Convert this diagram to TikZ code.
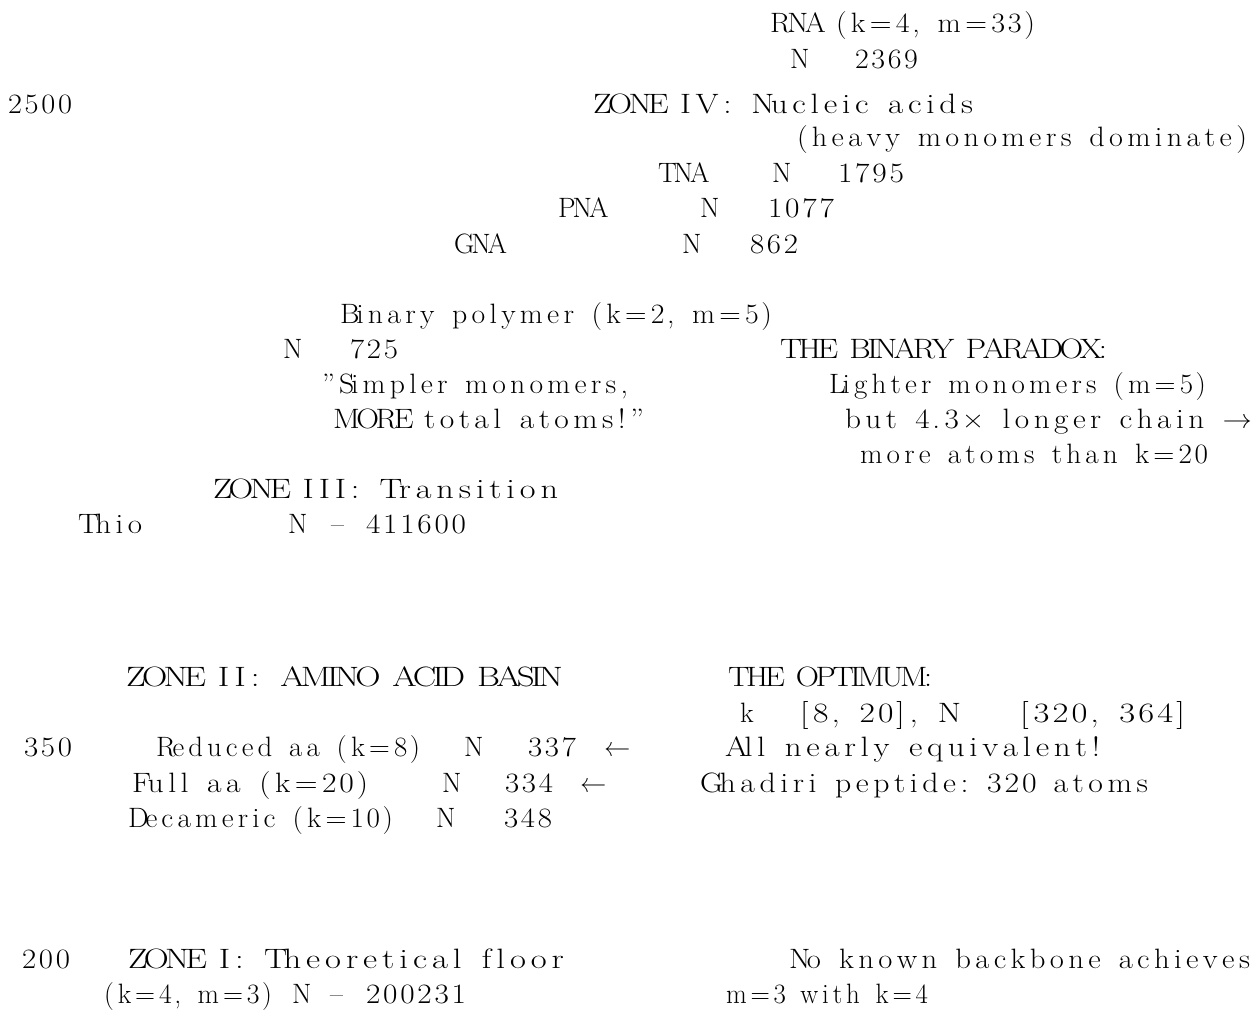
\documentclass[tikz,border=0pt]{standalone}
\usepackage{fontspec}
\usepackage{graphicx}
\usepackage{tikz}
\ExplSyntaxOn
\bool_new:N \l_trk_mark_bool
\NewDocumentCommand \trk { m }
  {
    \bool_set_false:N \l_trk_mark_bool
    \str_map_inline:nn {#1}
      {
        \str_if_eq:nnTF {##1} {+}
          { \bool_set_true:N \l_trk_mark_bool }
          {
            \bool_if:NTF \l_trk_mark_bool
              {
                \hbox:n {##1} \skip_horizontal:n { 4pt }
                \bool_set_false:N \l_trk_mark_bool
              }
              {
                \str_if_eq:nnTF {##1} {|}
                  { \skip_horizontal:n { 16pt } }
                  {
                    \str_if_in:nnTF { ABCDEFGHIJKLMNOPQRSTUVWXYZ } {##1}
                      { \hbox:n {##1} \skip_horizontal:n { -3pt } }
                      {
                        \str_if_in:nnTF { 0123456789 } {##1}
                          { \hbox:n {##1} \skip_horizontal:n { 2.5pt } }
                          { \hbox:n {##1} \skip_horizontal:n { 4pt } }
                      }
                  }
              }
          }
      }
    \unskip
  }
\NewDocumentCommand \fit { m m } { \resizebox{#1pt}{\height}{\trk{#2}} }
\ExplSyntaxOff
\tikzset{lbl/.style={inner sep=0pt, outer sep=0pt, anchor=base west, font=\fontsize{28}{34}\selectfont}}
\begin{document}
\begin{tikzpicture}[x=1pt,y=-1pt]
\useasboundingbox (0,0) rectangle (1255,1013);
% Zone IV
\node[lbl] (rna) at (770,32) {\fit{265}{RNA (k=4, m=33)}};
\node[lbl] (rnaN) at (790,68) {\trk{N}};
\node[lbl] (rnaV) at (855,68) {\fit{63}{2369}};
\node[lbl] (ax2500) at (8,113) {\fit{64}{2500}};
\node[lbl] (zone4) at (593,113) {\fit{380}{ZONE +I+V: Nucleic acids}};
\node[lbl] (heavy) at (797,146) {\fit{450}{(heavy monomers dominate)}};
\node[lbl] (tna) at (658,182) {\trk{TNA}};
\node[lbl] (tnaN) at (772,182) {\trk{N}};
\node[lbl] (tnaV) at (838,182) {\fit{66}{1795}};
\node[lbl] (pna) at (558,217) {\trk{PNA}};
\node[lbl] (pnaN) at (700,217) {\trk{N}};
\node[lbl] (pnaV) at (768,217) {\fit{66}{1077}};
\node[lbl] (gna) at (454,253) {\trk{GNA}};
\node[lbl] (gnaN) at (682,253) {\trk{N}};
\node[lbl] (gnaV) at (750,253) {\fit{48}{862}};
% Binary
\node[lbl] (binary) at (340,323) {\fit{432}{Binary polymer (k=2, m=5)}};
\node[lbl] (binN) at (283,358) {\trk{N}};
\node[lbl] (binV) at (350,358) {\fit{48}{725}};
\node[lbl] (paradox) at (780,358) {\fit{327}{THE BINARY PARADOX:}};
\node[lbl] (simpler) at (322,393) {\fit{306}{"Simpler monomers,}};
\node[lbl] (lighter) at (829,393) {\fit{377}{Lighter monomers (m=5)}};
\node[lbl] (moretot) at (333,428) {\fit{311}{MORE total atoms!"}};
\node[lbl] (longer) at (845,428) {\fit{407}{but 4.3× longer chain →}};
\node[lbl] (moreat) at (860,463) {\fit{348}{more atoms than k=20}};
% Zone III
\node[lbl] (zone3) at (213,498) {\fit{345}{ZONE +I+I+I: Transition}};
\node[lbl] (thio) at (78,533) {\fit{64}{Thio}};
\node[lbl] (thioN) at (288,533) {\trk{N}};
\node[lbl] (thioD) at (331,533) {\trk{–}};
\node[lbl] (thioV) at (366,533) {\fit{100}{411600}};
% Zone II
\node[lbl] (zone2) at (126,686) {\fit{437}{ZONE +I+I: AMINO ACID BASIN}};
\node[lbl] (optimum) at (728,686) {\fit{204}{THE OPTIMUM:}};
\node[lbl] (krk) at (740,722) {\trk{k}};
\node[lbl] (krange1) at (800,722) {\fit{161}{[8, 20], N}};
\node[lbl] (krange2) at (1020,722) {\fit{165}{[320, 364]}};
\node[lbl] (ax350) at (24,756) {\fit{48}{350}};
\node[lbl] (reduced) at (156,756) {\fit{264}{Reduced aa (k=8)}};
\node[lbl] (reducedN) at (464,756) {\trk{N}};
\node[lbl] (reducedV) at (528,756) {\fit{48}{337}};
\node[lbl] (reducedA) at (604,756) {\trk{←}};
\node[lbl] (allnear) at (725,756) {\fit{375}{All nearly equivalent!}};
\node[lbl] (fullaa) at (132,792) {\fit{236}{Full aa (k=20)}};
\node[lbl] (fullaaN) at (442,792) {\trk{N}};
\node[lbl] (fullaaV) at (505,792) {\fit{48}{334}};
\node[lbl] (fullaaA) at (580,792) {\trk{←}};
\node[lbl] (ghadiri) at (700,792) {\fit{448}{Ghadiri peptide: 320 atoms}};
\node[lbl] (decam) at (128,827) {\fit{265}{Decameric (k=10)}};
\node[lbl] (decamN) at (436,827) {\trk{N}};
\node[lbl] (decamV) at (504,827) {\fit{48}{348}};
% Zone I
\node[lbl] (ax200) at (22,968) {\fit{48}{200}};
\node[lbl] (zone1) at (128,968) {\fit{436}{ZONE +I: Theoretical floor}};
\node[lbl] (noknown) at (789,968) {\fit{461}{No known backbone achieves}};
\node[lbl] (km3) at (104,1003) {\fit{168}{(k=4, m=3)}};
\node[lbl] (km3N) at (292,1003) {\trk{N}};
\node[lbl] (km3D) at (330,1003) {\trk{–}};
\node[lbl] (km3V) at (366,1003) {\fit{100}{200231}};
\node[lbl] (m3) at (726,1003) {\fit{202}{m=3 with k=4}};
\end{tikzpicture}
\end{document}
